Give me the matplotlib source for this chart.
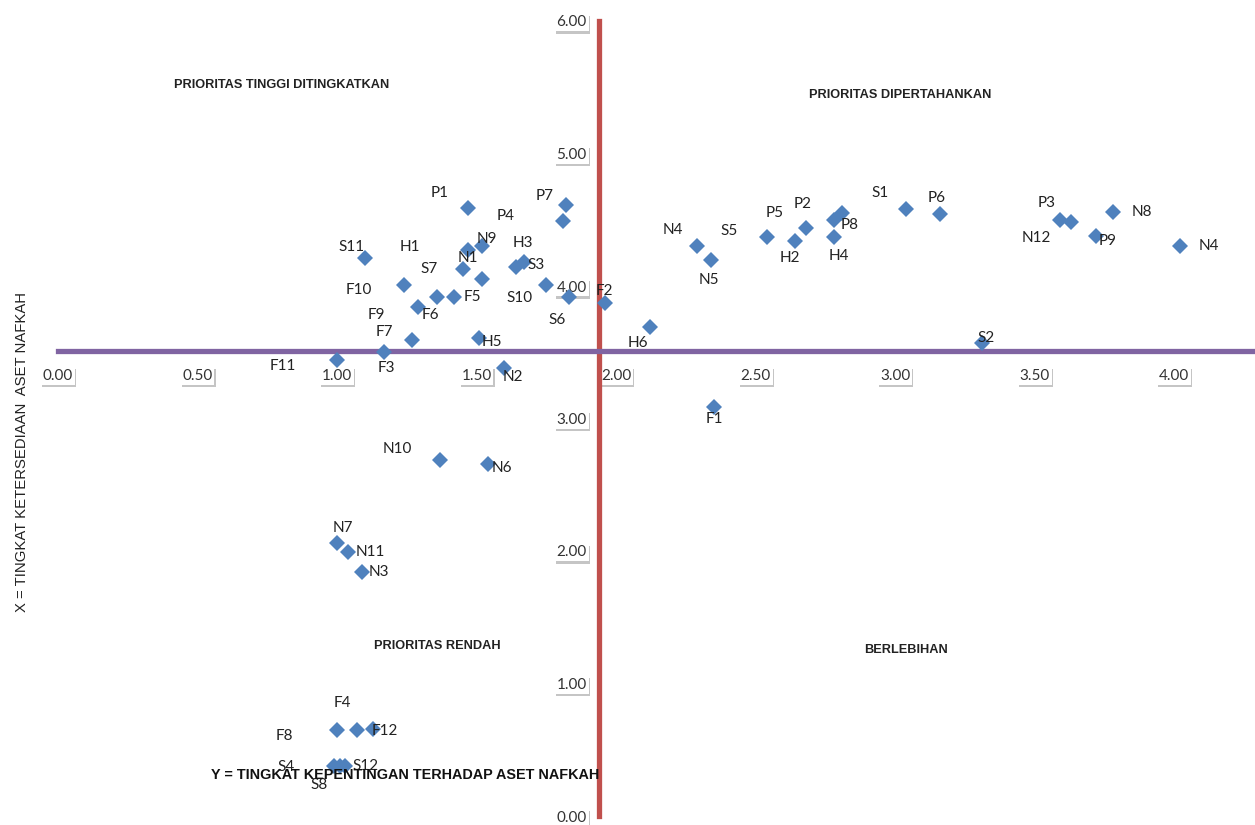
import matplotlib
matplotlib.use("Agg")
import matplotlib.pyplot as plt
import matplotlib.patheffects as pe

# ---------------- data ----------------
names = ["P1", "P7", "P4", "S11", "N9", "N1", "H1", "S7", "S3", "H3",
         "S10", "S6", "F2", "F10", "F9", "F5", "F6", "F7", "H5", "F3",
         "F11", "N2", "H6", "N4", "N5", "F1", "P5", "H2", "P2", "S5",
         "P8", "H4", "S1", "P6", "P3", "N12", "P9", "N8", "N4", "S2",
         "N10", "N6", "N7", "N11", "N3", "F4", "F8", "F12", "S4", "S8", "S12"]
x_vals = [1.47, 1.82, 1.81, 1.10, 1.52, 1.47, 1.45, 1.52, 1.64, 1.67,
          1.75, 1.83, 1.96, 1.24, 1.36, 1.42, 1.29, 1.27, 1.51, 1.17,
          1.00, 1.60, 2.12, 2.29, 2.34, 2.35, 2.54, 2.64, 2.68, 2.78,
          2.81, 2.78, 3.04, 3.16, 3.59, 3.63, 3.72, 3.78, 4.02, 3.31,
          1.37, 1.54, 1.00, 1.04, 1.09, 1.00, 1.07, 1.13, 0.99, 1.01, 1.03]
y_vals = [4.59, 4.61, 4.49, 4.21, 4.30, 4.27, 4.13, 4.05, 4.14, 4.18,
          4.01, 3.92, 3.87, 4.01, 3.92, 3.92, 3.84, 3.59, 3.61, 3.50,
          3.44, 3.38, 3.69, 4.30, 4.20, 3.09, 4.37, 4.34, 4.44, 4.50,
          4.55, 4.37, 4.58, 4.54, 4.50, 4.48, 4.38, 4.56, 4.30, 3.57,
          2.69, 2.66, 2.06, 1.99, 1.84, 0.65, 0.65, 0.66, 0.38, 0.38, 0.38]
# label offsets in pixels (dx right, dy down)
label_dx = [-29, -21, -57, -13, 5, 0, -53, -53, 20, -1,
            -27, -12, -1, -45, -61, 18, 12, -28, 13, 2,
            -54, 8, -12, -24, -2, 1, 8, -5, -3, -105,
            8, 5, -26, -3, -13, -35, 12, 29, 29, 5,
            -43, 14, 6, 22, 17, 5, -72, 12, -48, -21, 20]
label_dy = [-15, -9, -5, -11, -7, 8, -22, -10, -2, -19,
            13, 23, -12, 5, 18, 0, 8, -8, 4, 16,
            6, 9, 16, -16, 21, 12, -24, 17, -24, 11,
            12, 19, -16, -16, -17, 16, 5, 0, 0, -5,
            -11, 4, -15, 0, 0, -27, 6, 2, 1, 19, 0]

x_ticks = [0.0, 0.5, 1.0, 1.5, 2.0, 2.5, 3.0, 3.5, 4.0]
y_ticks = [0.0, 1.0, 2.0, 3.0, 4.0, 5.0, 6.0]
x_cross = 1.94   # position of vertical (red) axis
y_cross = 3.51   # position of horizontal (purple) axis

quadrant_text = ["PRIORITAS TINGGI DITINGKATKAN", "PRIORITAS DIPERTAHANKAN",
                 "PRIORITAS RENDAH", "BERLEBIHAN"]
quadrant_x = [0.80, 3.02, 1.36, 3.04]
quadrant_y = [5.52, 5.44, 1.28, 1.25]

x_title = "X = TINGKAT KETERSEDIAAN  ASET NAFKAH"
y_title = "Y = TINGKAT KEPENTINGAN TERHADAP ASET NAFKAH"

# ---------------- plot ----------------
fig = plt.figure(figsize=(12.55, 8.25), dpi=100)
ax = fig.add_axes([58 / 1255, 9 / 825, 1 - 58 / 1255, (816 - 21) / 825])
ax.set_xlim(0, 4.29)
ax.set_ylim(0, 6.0)

for s in ["top", "right"]:
    ax.spines[s].set_visible(False)
ax.spines["left"].set_position(("data", x_cross))
ax.spines["bottom"].set_position(("data", y_cross))
ax.spines["left"].set_color("#C0504D")
ax.spines["left"].set_linewidth(3.8)
ax.spines["bottom"].set_color("#8064A2")
ax.spines["bottom"].set_linewidth(3.8)

ax.set_xticks(x_ticks)
ax.set_yticks(y_ticks)
ax.set_xticklabels([f"{v:.2f}" for v in x_ticks])
ax.set_yticklabels([f"{v:.2f}" for v in y_ticks])
ax.tick_params(axis="both", length=0, labelsize=11, labelcolor="#333333")
ax.tick_params(axis="x", pad=13)
ax.tick_params(axis="y", pad=9)
for lbl in ax.get_xticklabels() + ax.get_yticklabels():
    lbl.set_fontfamily("Lato")
    lbl.set_bbox(dict(boxstyle="square,pad=0.12", fc="white", ec="none"))
    lbl.get_bbox_patch().set_path_effects([
        pe.withSimplePatchShadow(offset=(0.8, -1.6), shadow_rgbFace="#808080", alpha=0.45),
        pe.Normal()])

ax.plot(x_vals, y_vals, linestyle="none", marker="D", markersize=8,
        color="#4F81BD", markeredgewidth=0, zorder=4, clip_on=False)

for n, xv, yv, dx, dy in zip(names, x_vals, y_vals, label_dx, label_dy):
    ax.annotate(n, (xv, yv), xytext=(dx, -dy), textcoords="offset pixels",
                ha="center", va="center", fontsize=11, family="Lato",
                color="#222222", zorder=5)

for t, qx, qy in zip(quadrant_text, quadrant_x, quadrant_y):
    ax.text(qx, qy, t, ha="center", va="center", fontsize=9.2,
            family="Liberation Sans", weight="bold", color="#222222")

ax.text(1.244, 0.31, y_title, ha="center", va="center", fontsize=10.4,
        family="Liberation Sans", weight="bold", color="#111111", zorder=6)
fig.text(22 / 1255, 1 - 452 / 825, x_title, rotation=90, ha="center",
         va="center", fontsize=10.7, family="Liberation Sans", color="#222222")

fig.savefig("out.png", dpi=100)
